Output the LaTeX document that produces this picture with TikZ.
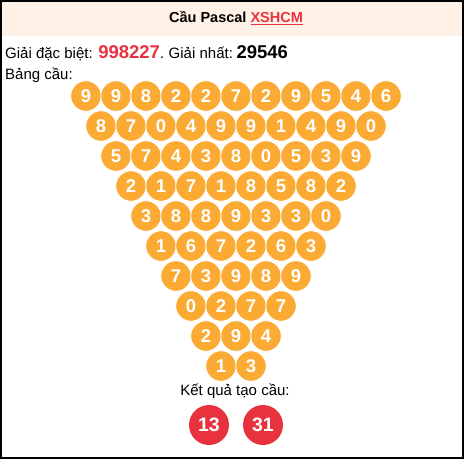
\documentclass[tikz,border=0pt]{standalone}
\usepackage{fontspec}
\setmainfont{Liberation Sans}
\definecolor{ball}{HTML}{FBAA33}
\definecolor{redball}{HTML}{E8333F}
\definecolor{hdr}{HTML}{FFF1E6}
\definecolor{rtext}{HTML}{E8333F}
\begin{document}
\begin{tikzpicture}[x=1pt,y=-1pt,
  ballnode/.style={circle,fill=ball,draw=white,line width=0.8pt,minimum size=30.5pt,inner sep=0pt,
    text=white,font=\fontsize{18.5}{18.5}\selectfont\bfseries},
  resnode/.style={circle,fill=redball,minimum size=40pt,inner sep=0pt,
    text=white,font=\fontsize{19.5}{19.5}\selectfont\bfseries},
  txt/.style={inner sep=0pt,anchor=base west,font=\fontsize{15}{15}\selectfont}]
\useasboundingbox (0,0) rectangle (464,459);
\fill[hdr] (0,0) rectangle (464,36);
\node[inner sep=0pt,font=\fontsize{14.5}{14.5}\selectfont\bfseries] (title) at (236,18) {Cầu Pascal \textcolor{rtext}{\underline{XSHCM}}};
\node[txt] (l1) at (5,58) {Giải đặc biệt: \textcolor{rtext}{\fontsize{18.5}{18.5}\selectfont\bfseries 998227}.\hspace{-1pt} Giải nhất:\hspace{-2pt} {\fontsize{18.5}{18.5}\selectfont\bfseries 29546}};
\node[txt] (l2) at (5,79) {Bảng cầu:};
\foreach \row [count=\r from 0] in {
  {9,9,8,2,2,7,2,9,5,4,6},
  {8,7,0,4,9,9,1,4,9,0},
  {5,7,4,3,8,0,5,3,9},
  {2,1,7,1,8,5,8,2},
  {3,8,8,9,3,3,0},
  {1,6,7,2,6,3},
  {7,3,9,8,9},
  {0,2,7,7},
  {2,9,4},
  {1,3}} {
  \foreach \d [count=\c from 0] in \row {
    \node[ballnode] (b-\r-\c) at ({86+15*\r+30*\c},{96+30*\r}) {\d};
  }
}
\node[inner sep=0pt,font=\fontsize{15}{15}\selectfont] (kq) at (235,391) {Kết quả tạo cầu:};
\node[resnode] (r1) at (209,425) {13};
\node[resnode] (r2) at (263,425) {31};
\draw[line width=2pt] (1,1) rectangle (463,458);
\end{tikzpicture}
\end{document}
